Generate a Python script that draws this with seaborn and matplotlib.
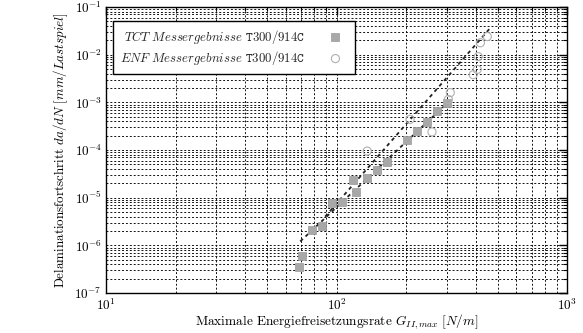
import numpy as np
import pandas as pd
import matplotlib
matplotlib.use("Agg")
import matplotlib.pyplot as plt
import seaborn as sns

# TCT measurements
tct_G = [68.7, 70.8, 78.3, 86.5, 95.6, 105.6, 121.5, 118.0, 135.6, 150.0, 165.6, 202.0, 223.6, 247.0, 273.0, 301.0]
tct_rate = [3.6e-7, 5.9e-7, 2.06e-6, 2.6e-6, 7.9e-6, 8.3e-6, 1.33e-5, 2.37e-5, 2.6e-5, 3.8e-5, 5.6e-5, 1.6e-4, 2.5e-4, 3.8e-4, 6.5e-4, 9.5e-4]
# ENF measurements
enf_G = [135.6, 208.0, 259.0, 305.0, 311.0, 391.0, 407.0, 411.0, 420.0, 450.0]
enf_rate = [9.5e-5, 4.4e-4, 2.4e-4, 1.15e-3, 1.6e-3, 3.8e-3, 4.9e-3, 9.1e-3, 1.78e-2, 2.4e-2]
# fit lines (end points)
fit_tct_G = [69.5, 301.0]
fit_tct_rate = [1.21e-6, 9.5e-4]
fit_enf_G = [89.1, 464.0]
fit_enf_rate = [4.0e-6, 3.65e-2]

x_major = [10, 100, 1000]
y_major = [1e-7, 1e-6, 1e-5, 1e-4, 1e-3, 1e-2, 1e-1]

labels = [r"$TCT\ Messergebnisse$ $\mathtt{T300/914C}$",
          r"$ENF\ Messergebnisse$ $\mathtt{T300/914C}$"]

sns.set_theme(style="white")
plt.rcParams["font.family"] = ["cmr10", "DejaVu Serif"]
plt.rcParams["mathtext.fontset"] = "cm"
plt.rcParams["axes.formatter.use_mathtext"] = True

fig = plt.figure(figsize=(5.83, 3.33), dpi=100)
ax = fig.add_axes([0.182, 0.12, 0.791, 0.859])
ax.set_xscale("log")
ax.set_yscale("log")

grid_kw = dict(color="#111111", linestyle=(0, (2, 2)), linewidth=0.7)
ax.grid(True, which="both", **grid_kw)
ax.set_axisbelow(True)

sns.lineplot(x=fit_tct_G, y=fit_tct_rate, ax=ax, color="#222222",
             linestyle=(0, (2, 2)), linewidth=1.3, legend=False)
sns.lineplot(x=fit_enf_G, y=fit_enf_rate, ax=ax, color="#222222",
             linestyle=(0, (2, 2)), linewidth=1.3, legend=False)

sns.scatterplot(x=tct_G, y=tct_rate, ax=ax, marker="s", s=38, color="#a8a8a8",
                edgecolor="#999999", linewidth=0.5, label=labels[0], zorder=5)
sns.scatterplot(x=enf_G, y=enf_rate, ax=ax, marker="o", s=34, facecolor="none",
                edgecolor="#b0b0b0", linewidth=0.8, label=labels[1], zorder=5)

ax.set_xlim(10, 1000)
ax.set_ylim(1e-7, 1e-1)

for s in ax.spines.values():
    s.set_color("black")
    s.set_linewidth(1.0)

ax.xaxis.set_major_locator(matplotlib.ticker.FixedLocator(x_major))
ax.yaxis.set_major_locator(matplotlib.ticker.FixedLocator(y_major))
ax.xaxis.set_major_formatter(matplotlib.ticker.LogFormatterSciNotation())
ax.yaxis.set_major_formatter(matplotlib.ticker.LogFormatterSciNotation())
ax.xaxis.set_minor_locator(matplotlib.ticker.LogLocator(base=10, subs=np.arange(2, 10)))
ax.yaxis.set_minor_locator(matplotlib.ticker.LogLocator(base=10, subs=np.arange(2, 10), numticks=20))
ax.xaxis.set_minor_formatter(matplotlib.ticker.NullFormatter())
ax.yaxis.set_minor_formatter(matplotlib.ticker.NullFormatter())

ax.tick_params(which="both", direction="in", top=True, right=True, colors="black")
ax.tick_params(which="major", length=6, width=1.0, labelsize=9.5, pad=3)
ax.tick_params(which="minor", length=3, width=0.8)

ax.set_xlabel(r"Maximale Energiefreisetzungsrate $G_{II,max}\ [N/m]$", fontsize=9.6, color="black", labelpad=0)
ax.set_ylabel(r"Delaminationsfortschritt $da/dN\ [mm/Lastspiel]$", fontsize=9.4, color="black", labelpad=3)

leg = ax.legend(loc="upper left", bbox_to_anchor=(0.015, 0.952), markerfirst=False,
                fontsize=9.2, frameon=True, fancybox=False, framealpha=1,
                edgecolor="black", borderpad=0.55, labelspacing=0.25, handletextpad=1.4,
                borderaxespad=0.0)
leg.get_frame().set_linewidth(1.0)

fig.savefig("out.png", dpi=100)
